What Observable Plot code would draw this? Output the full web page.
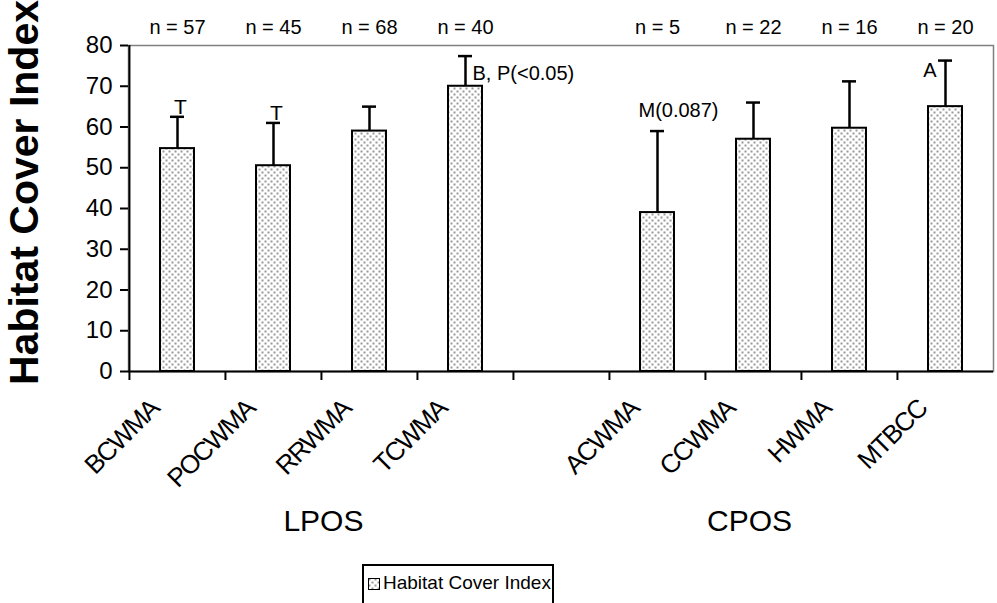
<!DOCTYPE html>
<html><head><meta charset="utf-8">
<script src="https://cdn.jsdelivr.net/npm/d3@7"></script>
<script src="https://cdn.jsdelivr.net/npm/@observablehq/plot@0.6"></script>
<style>
body{margin:0;background:#fff;font-family:"Liberation Sans",Arial,sans-serif;}
#wrap{position:relative;width:997px;height:603px;overflow:hidden;}
#legend{position:absolute;left:362px;top:564px;width:192px;height:60px;border:2px solid #000;box-sizing:border-box;font-size:19px;padding:6px 0 0 4px;white-space:nowrap;}
#legend svg{vertical-align:-1px;margin-right:3px;}
</style></head><body><div id="wrap"><div id="chart"></div><div id="legend"></div></div>
<script>
// ---- data ----
const sites = ["BCWMA","POCWMA","RRWMA","TCWMA","ACWMA","CCWMA","HWMA","MTBCC"];
const means = [54.7, 50.5, 59, 70, 39, 57, 59.7, 65];
const upper = [62.5, 61, 65, 77.4, 59, 66, 71.2, 76.3];
const nCounts = [57, 45, 68, 40, 5, 22, 16, 20];
const notes = ["T", "T", "", "B, P(<0.05)", "M(0.087)", "", "", "A"];
const groupNames = ["LPOS", "CPOS"];
const groupAt = ["RRWMA", "CCWMA"];
const yTicks = [0, 10, 20, 30, 40, 50, 60, 70, 80];
const seriesName = "Habitat Cover Index";

const domain = [...sites.slice(0, 4), "", ...sites.slice(4)];
const data = sites.map((s, i) => ({site: s, mean: means[i], upper: upper[i], n: nCounts[i], note: notes[i]}));

const W = 997, H = 560, ML = 128, MR = 4, MT = 45, MB = H - 371;
const bw = (W - ML - MR) / domain.length;
const font = "Liberation Sans, Arial, sans-serif";

const noteMark = (label, opts) => Plot.text(data.filter(d => d.note === label), {x: "site", y: "upper", text: "note", fontSize: 20, ...opts});

const chart = Plot.plot({
  width: W, height: H,
  marginLeft: ML, marginRight: MR, marginTop: MT, marginBottom: MB,
  style: {fontFamily: font, background: "white", color: "black"},
  x: {domain, padding: 0, axis: null},
  y: {domain: [0, 80], axis: null},
  marks: [
    Plot.frame({stroke: "#808080", strokeWidth: 1.5}),
    Plot.barY(data, {x: "site", y: "mean", fill: "url(#dots)", stroke: "black", strokeWidth: 2, insetLeft: 31, insetRight: 31}),
    Plot.ruleX(data, {x: "site", y1: "mean", y2: "upper", strokeWidth: 2.5}),
    Plot.tickY(data, {x: "site", y: "upper", insetLeft: 41, insetRight: 41, strokeWidth: 2.5}),
    Plot.axisY({ticks: yTicks, tickSize: 8, tickPadding: 8, fontSize: 24, tickFormat: d => String(d), label: null, strokeWidth: 2}),
    Plot.ruleX([domain[0]], {x: d => d, y1: 0, y2: 80, dx: -bw / 2, strokeWidth: 2}),
    Plot.ruleY([0], {strokeWidth: 2}),
    Plot.axisX({ticks: domain, tickSize: 9, tickFormat: () => "", dx: -bw / 2, label: null, strokeWidth: 2}),
    Plot.axisX({ticks: domain, tickSize: 0, tickPadding: 0, tickRotate: -45, fontSize: 26, label: null, dx: -23, dy: 33, textAnchor: "end"}),
    Plot.text(data, {x: "site", text: d => `n = ${d.n}`, frameAnchor: "top", lineAnchor: "middle", dy: -18, fontSize: 20}),
    noteMark("T", {dx: 3, dy: -3, lineAnchor: "bottom", fontSize: 21}),
    noteMark("B, P(<0.05)", {dx: 7, dy: 17, textAnchor: "start"}),
    noteMark("M(0.087)", {dx: 21, dy: -14, lineAnchor: "bottom"}),
    noteMark("A", {dx: -9, dy: 10, textAnchor: "end"}),
    Plot.text([groupNames[0]], {x: () => groupAt[0], text: d => d, frameAnchor: "bottom", lineAnchor: "middle", dx: -bw / 2 + 2, dy: 150, fontSize: 30}),
    Plot.text([groupNames[1]], {x: () => groupAt[1], text: d => d, frameAnchor: "bottom", lineAnchor: "middle", dx: -4, dy: 150, fontSize: 30}),
    Plot.text([seriesName], {text: d => d, frameAnchor: "left", textAnchor: "middle", lineAnchor: "middle", rotate: -90, dx: -104, dy: -16, fontSize: 41, fontWeight: "bold"})
  ]
});

const defs = `<defs><pattern id="dots" width="6" height="6" patternUnits="userSpaceOnUse"><rect width="6" height="6" fill="white"/><rect x="0.5" y="0.5" width="2" height="2" fill="#999"/><rect x="3.5" y="3.5" width="2" height="2" fill="#999"/></pattern></defs>`;
chart.insertAdjacentHTML("afterbegin", defs);
chart.querySelectorAll('g[aria-label="x-axis tick label"] text').forEach(t => t.setAttribute("letter-spacing", "-1.5"));
document.getElementById("chart").appendChild(chart);

document.getElementById("legend").innerHTML =
  `<svg width="12" height="12"><rect x="0.5" y="0.5" width="11" height="11" fill="url(#dots)" stroke="black" stroke-width="1"/></svg>${seriesName}`;
</script></body></html>
